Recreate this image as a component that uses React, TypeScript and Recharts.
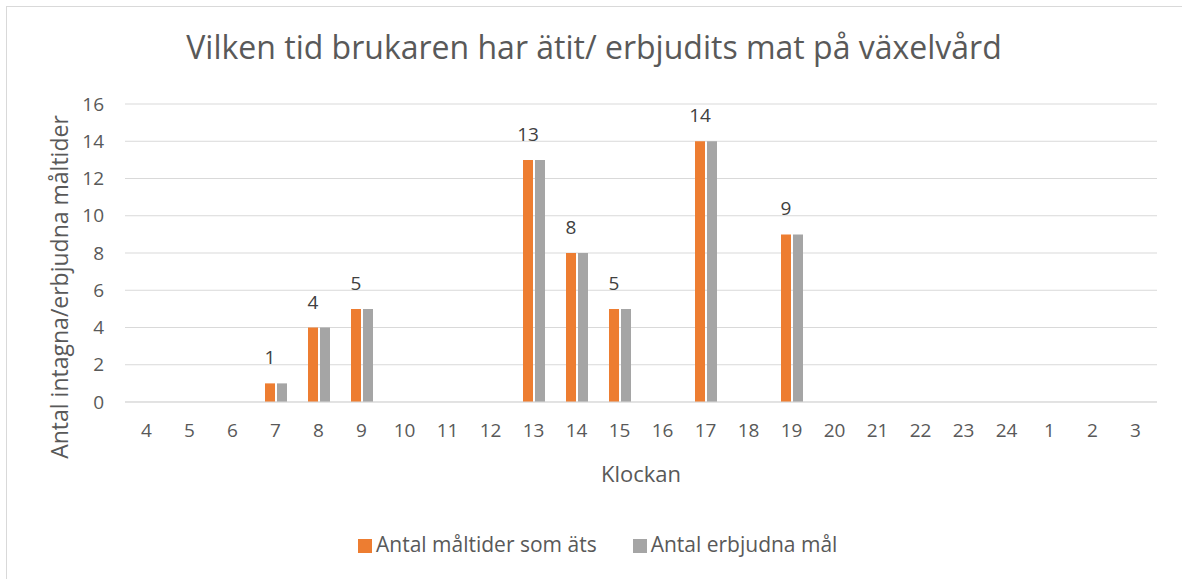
import { Bar, BarChart, CartesianGrid, Label, LabelList, Legend, XAxis, YAxis } from 'recharts'

const hours = ['4', '5', '6', '7', '8', '9', '10', '11', '12', '13', '14', '15', '16', '17', '18', '19', '20', '21', '22', '23', '24', '1', '2', '3']
const eaten = [0, 0, 0, 1, 4, 5, 0, 0, 0, 13, 8, 5, 0, 14, 0, 9, 0, 0, 0, 0, 0, 0, 0, 0]
const offered = [0, 0, 0, 1, 4, 5, 0, 0, 0, 13, 8, 5, 0, 14, 0, 9, 0, 0, 0, 0, 0, 0, 0, 0]
const yTicks = [0, 2, 4, 6, 8, 10, 12, 14, 16]

const data = hours.map((h, i) => ({ hour: h, eaten: eaten[i], offered: offered[i] }))

const FONT = "'Open Sans', 'Noto Sans', sans-serif"
const TEXT = '#595959'

function YTitle({ viewBox }: any) {
  const cx = viewBox.x + viewBox.width / 2 - 4
  const cy = viewBox.y + viewBox.height / 2 + 34
  return (
    <text
      x={cx}
      y={cy}
      transform={`rotate(-90, ${cx}, ${cy})`}
      textAnchor='middle'
      dominantBaseline='central'
      fill={TEXT}
      fontSize={23}
      fontFamily={FONT}
    >
      Antal intagna/erbjudna måltider
    </text>
  )
}

export default function App() {
  return (
    <div style={{ position: 'absolute', left: 0, top: 0, width: 1182, height: 579, overflow: 'hidden', background: '#fff' }}>
      <div
        style={{
          position: 'absolute',
          left: 6,
          top: 6,
          width: 1200,
          height: 600,
          border: '1px solid #d9d9d9',
        }}
      />
      <div
        style={{
          position: 'absolute',
          left: 0,
          top: 25,
          width: 1188,
          textAlign: 'center',
          fontFamily: FONT,
          fontSize: 32,
          color: TEXT,
        }}
      >
        Vilken tid brukaren har ätit/ erbjudits mat på växelvård
      </div>
      <div style={{ position: 'absolute', left: 0, top: 0 }}>
        <BarChart
          width={1182}
          height={579}
          data={data}
          margin={{ top: 104, right: 25, left: 0, bottom: 0 }}
          barSize={10}
          barGap={2}
        >
          <CartesianGrid vertical={false} stroke='#d9d9d9' />
          <XAxis
            dataKey='hour'
            height={80}
            tickLine={false}
            tickSize={0}
            tickMargin={22}
            axisLine={{ stroke: '#d9d9d9' }}
            tick={{ fill: TEXT, fontSize: 19, fontFamily: FONT }}
            interval={0}
          >
            <Label
              value='Klockan'
              position='insideBottom'
              offset={0}
              fill={TEXT}
              fontSize={22}
              fontFamily={FONT}
            />
          </XAxis>
          <YAxis
            width={125}
            domain={[0, 16]}
            ticks={yTicks}
            interval={0}
            axisLine={false}
            tickLine={false}
            tickSize={0}
            tickMargin={21}
            tick={{ fill: TEXT, fontSize: 19, fontFamily: FONT }}
          >
            <Label content={<YTitle />} />
          </YAxis>
          <Legend
            height={97}
            align='left'
            iconType='square'
            iconSize={14}
            itemSorter='dataKey'
            wrapperStyle={{ top: 530, left: 358, width: 700, fontFamily: FONT, fontSize: 21 }}
            formatter={(value) => <span style={{ color: TEXT, marginRight: 26 }}>{value}</span>}
          />
          <Bar dataKey='eaten' name='Antal måltider som äts' fill='#ED7D31' isAnimationActive={false}>
            <LabelList
              dataKey='eaten'
              position='top'
              offset={19}
              fill='#404040'
              fontSize={19}
              fontFamily={FONT}
              formatter={(v: any) => (v ? v : '')}
            />
          </Bar>
          <Bar dataKey='offered' name='Antal erbjudna mål' fill='#A5A5A5' isAnimationActive={false} />
        </BarChart>
      </div>
    </div>
  )
}
